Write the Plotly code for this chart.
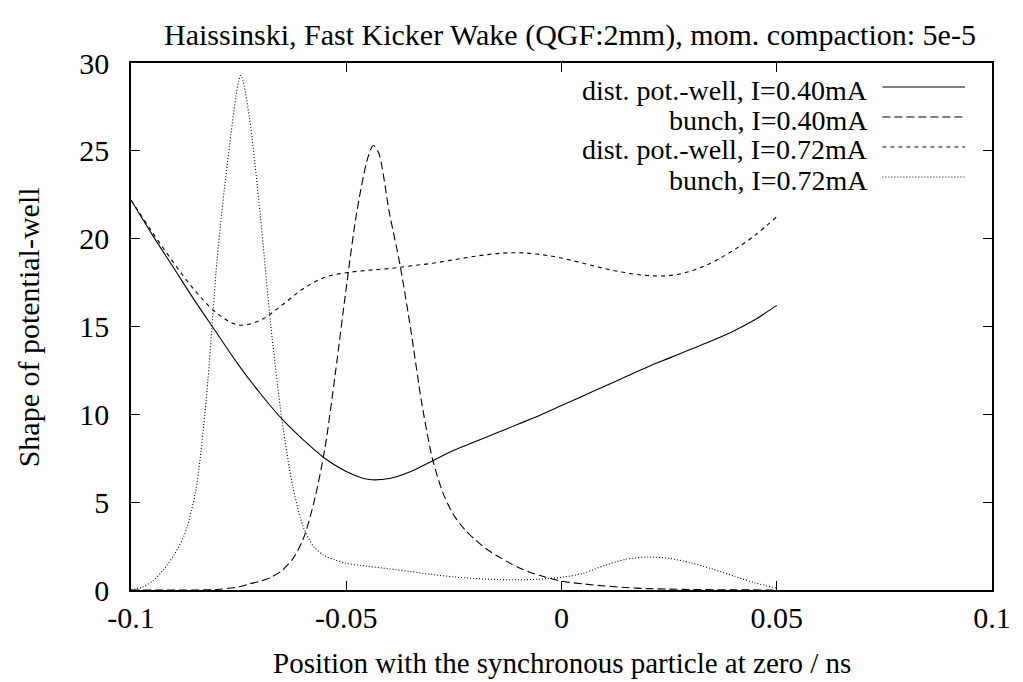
import plotly.graph_objects as go

# ---------------- data ----------------
x_pw = [-0.100, -0.095, -0.090, -0.085, -0.080, -0.075, -0.070, -0.065, -0.060, -0.055,
        -0.050, -0.045, -0.040, -0.035, -0.030, -0.025, -0.020, -0.015, -0.010, -0.005,
        0.000, 0.005, 0.010, 0.015, 0.020, 0.025, 0.030, 0.035, 0.040, 0.045, 0.050]

pw_040 = [22.2, 20.2, 18.3, 16.4, 14.6, 12.8, 11.2, 9.75, 8.55, 7.5,
          6.75, 6.3, 6.35, 6.75, 7.35, 7.95, 8.45, 8.95, 9.45, 9.95,
          10.5, 11.05, 11.6, 12.15, 12.7, 13.2, 13.7, 14.2, 14.75, 15.4, 16.2]

pw_072 = [22.2, 20.35, 18.6, 17.0, 15.75, 15.08, 15.35, 16.2, 17.15, 17.8,
          18.06, 18.2, 18.3, 18.45, 18.6, 18.8, 19.0, 19.15, 19.2, 19.1,
          18.9, 18.6, 18.3, 18.05, 17.9, 17.9, 18.15, 18.65, 19.35, 20.2, 21.25]

x_b040 = [-0.100, -0.090, -0.080, -0.075, -0.0725, -0.070, -0.0675, -0.065, -0.0625, -0.060,
          -0.0575, -0.055, -0.0525, -0.050, -0.0475, -0.045, -0.04375, -0.0425, -0.040, -0.0375,
          -0.035, -0.0325, -0.030, -0.0275, -0.025, -0.0225, -0.020, -0.0175, -0.015, -0.0125,
          -0.010, -0.0075, -0.005, -0.0025, 0.000, 0.005, 0.010, 0.015, 0.020, 0.025,
          0.030, 0.040, 0.050]
bunch_040 = [0.0, 0.0, 0.03, 0.18, 0.35, 0.5, 0.72, 1.1, 1.75, 2.9,
             5.0, 8.0, 12.4, 17.2, 21.6, 24.6, 25.3, 24.9, 21.5, 18.5,
             14.8, 10.7, 7.5, 5.5, 4.25, 3.45, 2.85, 2.35, 1.95, 1.6,
             1.28, 1.03, 0.82, 0.65, 0.5, 0.35, 0.23, 0.14, 0.08, 0.05,
             0.03, 0.01, 0.0]

x_b072 = [-0.100, -0.0975, -0.095, -0.0925, -0.090, -0.0875, -0.085, -0.0825, -0.080, -0.0775,
          -0.0745, -0.0725, -0.070, -0.0675, -0.065, -0.0625, -0.060, -0.0575, -0.055, -0.0525,
          -0.050, -0.045, -0.040, -0.035, -0.030, -0.025, -0.020, -0.015, -0.010, -0.005,
          0.000, 0.005, 0.010, 0.015, 0.020, 0.025, 0.030, 0.035, 0.040, 0.045,
          0.050]
bunch_072 = [0.02, 0.15, 0.5, 1.14, 2.0, 3.2, 5.6, 10.9, 18.8, 24.5,
             29.3, 26.9, 21.4, 15.0, 9.8, 6.0, 3.6, 2.45, 1.95, 1.7,
             1.52, 1.35, 1.2, 1.05, 0.88, 0.75, 0.65, 0.6, 0.58, 0.62,
             0.72, 0.95, 1.4, 1.75, 1.88, 1.8, 1.55, 1.2, 0.8, 0.4,
             0.1]

series_names = ["dist. pot.-well, I=0.40mA", "bunch, I=0.40mA",
                "dist. pot.-well, I=0.72mA", "bunch, I=0.72mA"]
x_ticks = [-0.1, -0.05, 0, 0.05, 0.1]
x_ticktext = ["-0.1", "-0.05", "0", "0.05", "0.1"]
y_ticks = [0, 5, 10, 15, 20, 25, 30]

# ---------------- styling ----------------
FONT = "Liberation Serif, Times New Roman, serif"
FS = 30
LEG_FS = 28
dashes = ["solid", "8px,4px", "4px,4px", "1px,2px"]
smooth = [1.0, 0.8, 1.0, 0.8]

fig = go.Figure()
xs = [x_pw, x_b040, x_pw, x_b072]
ys = [pw_040, bunch_040, pw_072, bunch_072]
for xv, yv, nm, ds, sm in zip(xs, ys, series_names, dashes, smooth):
    fig.add_trace(go.Scatter(x=xv, y=yv, mode="lines", name=nm,
                             line=dict(color="black", width=1.1, dash=ds,
                                       shape="spline", smoothing=sm),
                             showlegend=False))

# manual gnuplot-style legend (text right-aligned, sample to the right)
W_PLOT = 1023 - 131 - 28
H_PLOT = 682 - 63 - 92
row_px = [87, 117, 147, 177]
for nm, ds, py in zip(series_names, dashes, row_px):
    yp = (590 - py) / H_PLOT
    fig.add_annotation(x=(872 - 131) / W_PLOT, y=(590 - py - 3) / H_PLOT,
                       xref="paper", yref="paper", text=nm, showarrow=False,
                       xanchor="right", yanchor="middle", borderpad=0,
                       font=dict(family=FONT, size=LEG_FS, color="black"))
    fig.add_shape(type="line", xref="paper", yref="paper",
                  x0=(885 - 131) / W_PLOT, x1=(968 - 131) / W_PLOT, y0=yp, y1=yp,
                  line=dict(color="black", width=1.1, dash=ds))

# title and axis titles
fig.add_annotation(x=(572 - 131) / W_PLOT, y=(590 - 35) / H_PLOT, xref="paper", yref="paper",
                   text="Haissinski, Fast Kicker Wake (QGF:2mm), mom. compaction: 5e-5",
                   showarrow=False, xanchor="center", yanchor="middle",
                   font=dict(family=FONT, size=FS, color="black"))
fig.add_annotation(x=(563 - 131) / W_PLOT, y=(590 - 663) / H_PLOT, xref="paper", yref="paper",
                   text="Position with the synchronous particle at zero / ns",
                   showarrow=False, xanchor="center", yanchor="middle",
                   font=dict(family=FONT, size=FS - 1, color="black"))
fig.add_annotation(x=(28 - 131) / W_PLOT, y=(590 - 327) / H_PLOT, xref="paper", yref="paper",
                   text="Shape of potential-well", textangle=-90,
                   showarrow=False, xanchor="center", yanchor="middle",
                   font=dict(family=FONT, size=FS, color="black"))

axis_common = dict(showgrid=False, zeroline=False, showline=True, linecolor="black",
                   linewidth=1.5, mirror="ticks", ticks="inside", ticklen=9,
                   tickcolor="black", tickwidth=1.2,
                   tickfont=dict(family=FONT, size=FS, color="black"))

fig.update_layout(
    width=1023, height=682, autosize=False,
    margin=dict(l=131, r=28, t=63, b=92, pad=0),
    paper_bgcolor="white", plot_bgcolor="white",
    xaxis=dict(range=[-0.1, 0.1], tickvals=x_ticks, ticktext=x_ticktext,
               ticklabelstandoff=0, **axis_common),
    yaxis=dict(range=[0, 30], tickvals=y_ticks, ticklabelstandoff=14, **axis_common),
    showlegend=False,
)

fig.write_html("out.html")
